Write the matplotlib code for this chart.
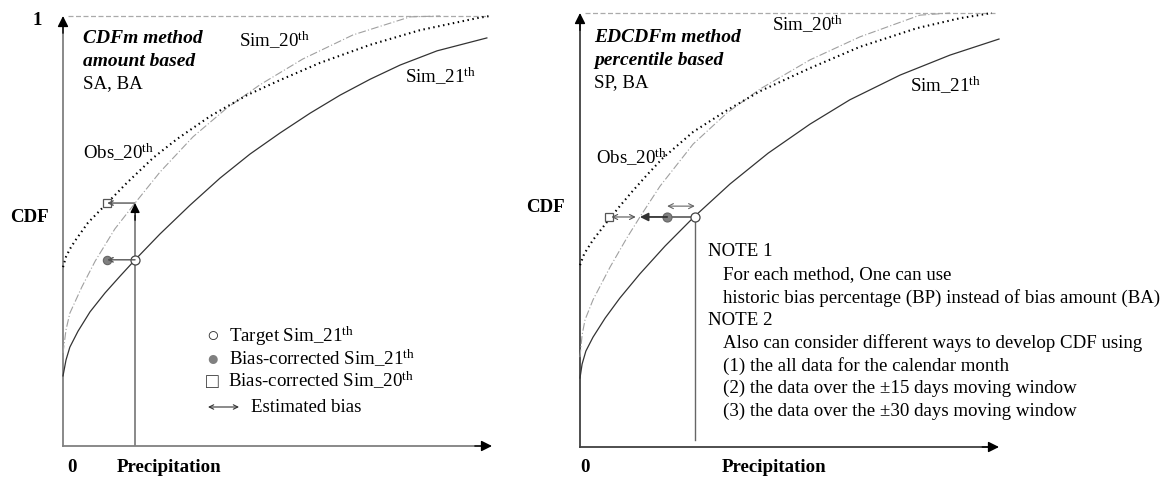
import numpy as np
import matplotlib.pyplot as plt

plt.rcParams['font.family'] = ['Liberation Serif', 'DejaVu Serif']
plt.rcParams['mathtext.fontset'] = 'custom'
plt.rcParams['mathtext.rm'] = 'Liberation Serif'
plt.rcParams['mathtext.it'] = 'Liberation Serif:italic'
plt.rcParams['mathtext.bf'] = 'Liberation Serif:bold'

W, H = 1168, 479

# ---- left panel : CDFm, amount based (x = precipitation, y = CDF) ----
cdfm_sim21_x = [0.0, 0.007, 0.016, 0.035, 0.063, 0.098, 0.133, 0.168, 0.226, 0.296, 0.366,
                0.436, 0.506, 0.576, 0.646, 0.716, 0.786, 0.872, 0.988]
cdfm_sim21_y = [0.163, 0.200, 0.230, 0.267, 0.312, 0.356, 0.395, 0.433, 0.493, 0.560, 0.623,
                0.679, 0.728, 0.774, 0.816, 0.853, 0.886, 0.919, 0.949]
cdfm_sim20_x = [0.0, 0.007, 0.016, 0.044, 0.075, 0.121, 0.168, 0.226, 0.303, 0.382, 0.459,
                0.559, 0.676, 0.809, 0.879]
cdfm_sim20_y = [0.216, 0.270, 0.309, 0.370, 0.430, 0.505, 0.565, 0.637, 0.719, 0.786, 0.840,
                0.900, 0.956, 0.998, 1.0]
cdfm_obs_x = [0.0, 0.007, 0.016, 0.028, 0.058, 0.103, 0.149, 0.210, 0.266, 0.343, 0.429,
              0.506, 0.599, 0.716, 0.832, 0.965, 0.995]
cdfm_obs_y = [0.416, 0.440, 0.458, 0.477, 0.519, 0.565, 0.612, 0.670, 0.714, 0.767, 0.816,
              0.851, 0.891, 0.933, 0.967, 0.995, 1.0]
cdfm_target = (0.168, 0.433)
cdfm_corr21 = (0.103, 0.433)
cdfm_corr20 = (0.103, 0.565)
cdfm_sim20_pt = (0.168, 0.565)

# ---- right panel : EDCDFm, percentile based ----
ed_sim21_x = [0.0, 0.005, 0.014, 0.031, 0.060, 0.095, 0.143, 0.203, 0.272, 0.358, 0.449,
              0.549, 0.644, 0.764, 0.883, 1.0]
ed_sim21_y = [0.159, 0.191, 0.221, 0.253, 0.297, 0.343, 0.399, 0.463, 0.530, 0.606, 0.677,
              0.744, 0.800, 0.857, 0.903, 0.940]
ed_sim20_x = [0.0, 0.005, 0.012, 0.031, 0.072, 0.112, 0.143, 0.191, 0.270, 0.351, 0.430,
              0.549, 0.668, 0.811, 0.883]
ed_sim20_y = [0.207, 0.258, 0.293, 0.339, 0.415, 0.482, 0.530, 0.601, 0.698, 0.770, 0.825,
              0.892, 0.945, 0.995, 1.0]
ed_obs_x = [0.0, 0.010, 0.031, 0.064, 0.095, 0.124, 0.160, 0.198, 0.270, 0.351, 0.430,
            0.549, 0.668, 0.804, 0.907, 0.983]
ed_obs_y = [0.419, 0.445, 0.477, 0.518, 0.555, 0.588, 0.627, 0.666, 0.726, 0.776, 0.820,
            0.873, 0.922, 0.965, 0.988, 1.0]
ed_corr20 = (0.069, 0.530)
ed_sim20_pt = (0.143, 0.530)
ed_corr21 = (0.208, 0.530)
ed_target = (0.274, 0.530)

notes = ["NOTE 1",
         "For each method, One can use",
         "historic bias percentage (BP) instead of bias amount (BA)",
         "NOTE 2",
         "Also can consider different ways to develop CDF using",
         "(1) the all data for the calendar month",
         "(2) the data over the \u00b115 days moving window",
         "(3) the data over the \u00b130 days moving window"]
note_indent = [0, 1, 1, 0, 1, 1, 1, 1]

fig = plt.figure(figsize=(W / 100, H / 100), dpi=100)
tx = fig.add_axes([0, 0, 1, 1])
tx.set_xlim(0, W)
tx.set_ylim(H, 0)
tx.axis('off')

FS = 13.6


def panel(x0, y0, w, h):
    ax = fig.add_axes([x0 / W, 1 - y0 / H, w / W, h / H])
    ax.set_xlim(0, 1)
    ax.set_ylim(0, 1)
    ax.axis('off')
    return ax


def arrow(ax, start, end, style, color, lw, ms):
    ax.annotate('', xy=end, xytext=start,
                arrowprops=dict(arrowstyle=style, color=color, lw=lw,
                                mutation_scale=ms, shrinkA=0, shrinkB=0),
                annotation_clip=False)


def draw_axes(ax, ycol):
    ax.plot([0, 0], [0, 0.975], color=ycol, lw=1.3, clip_on=False)
    arrow(ax, (0, 0.96), (0, 1.0), '-|>', 'k', 1.0, 16)
    ax.plot([0, 0.975], [0, 0], color=ycol, lw=1.3, clip_on=False)
    arrow(ax, (0.96, 0), (1.0, 0), '-|>', 'k', 1.0, 16)
    ax.plot([0.012, 0.99], [1.0, 1.0], color='#aaaaaa', lw=0.9,
            ls=(0, (4, 2)), clip_on=False)


def draw_curves(ax, s21x, s21y, s20x, s20y, ox, oy):
    ax.plot(s21x, s21y, color='#333333', lw=0.9, clip_on=False)
    ax.plot(s20x, s20y, color='#a0a0a0', lw=0.8, ls=(0, (7, 2, 1, 2)), clip_on=False)
    ax.plot(ox, oy, color='k', lw=1.5, ls=(0, (0.7, 1.7)), clip_on=False)


# left panel
a1 = panel(63, 446, 429, 430)
draw_axes(a1, '#808080')
draw_curves(a1, cdfm_sim21_x, cdfm_sim21_y, cdfm_sim20_x, cdfm_sim20_y, cdfm_obs_x, cdfm_obs_y)
a1.plot([cdfm_target[0], cdfm_sim20_pt[0]], [0, cdfm_sim20_pt[1] - 0.03], color='#808080', lw=1.3)
arrow(a1, (cdfm_sim20_pt[0], cdfm_sim20_pt[1] - 0.04), cdfm_sim20_pt, '-|>', 'k', 1.0, 14)
arrow(a1, cdfm_target, cdfm_corr21, '->', '#555555', 1.0, 8)
arrow(a1, cdfm_sim20_pt, cdfm_corr20, '->', '#555555', 1.0, 8)
a1.plot(*cdfm_target, 'o', ms=6.5, mfc='white', mec='#444444', mew=0.9, clip_on=False)
a1.plot(*cdfm_corr21, 'o', ms=6, mfc='#808080', mec='#666666', mew=0.8, clip_on=False)
a1.plot(*cdfm_corr20, 's', ms=6, mfc='white', mec='#555555', mew=0.9, clip_on=False)

# right panel
a2 = panel(580, 447, 419, 434)
draw_axes(a2, '#404040')
draw_curves(a2, ed_sim21_x, ed_sim21_y, ed_sim20_x, ed_sim20_y, ed_obs_x, ed_obs_y)
a2.plot([ed_target[0], ed_target[0]], [0.016, ed_target[1]], color='#666666', lw=1.0)
a2.plot([ed_target[0], ed_corr21[0]], [ed_target[1], ed_corr21[1]], color='#666666', lw=1.3)
arrow(a2, ed_corr21, ed_sim20_pt, '-|>', '#333333', 1.3, 12)
arrow(a2, (ed_corr20[0] + 0.006, ed_corr20[1]), (ed_sim20_pt[0] - 0.01, ed_sim20_pt[1]),
      '<->', '#555555', 0.8, 9)
arrow(a2, (ed_corr21[0], ed_corr21[1] + 0.025), (ed_target[0], ed_target[1] + 0.025),
      '<->', '#666666', 0.8, 9)
a2.plot(*ed_target, 'o', ms=6.5, mfc='white', mec='#444444', mew=0.9, clip_on=False)
a2.plot(*ed_corr21, 'o', ms=6.5, mfc='#808080', mec='#666666', mew=0.8, clip_on=False)
a2.plot(*ed_corr20, 's', ms=6, mfc='white', mec='#555555', mew=0.9, clip_on=False)


# ---- texts ----
def t(x, y, s, **kw):
    kw.setdefault('fontsize', FS)
    tx.text(x, y, s, va='center', ha='left', **kw)


th = r'$^{\mathrm{th}}$'
# left
t(33, 20, '1', fontweight='bold')
t(83, 38, 'CDFm method', fontweight='bold', style='italic', fontsize=14)
t(83, 61, 'amount based', fontweight='bold', style='italic', fontsize=14)
t(83, 84, 'SA, BA')
t(239, 41, 'Sim_20' + th)
t(405, 77, 'Sim_21' + th)
t(83, 153, 'Obs_20' + th)
t(10, 218, 'CDF', fontweight='bold')
t(67, 467, '0', fontweight='bold')
t(117, 467, 'Precipitation', fontweight='bold')
t(206, 338, '\u25cb', color='#333333', fontsize=15)
t(229, 336, 'Target Sim_21' + th)
t(206, 361, '\u25cf', color='#808080', fontsize=15)
t(229, 359, 'Bias-corrected Sim_21' + th)
t(206, 383, '\u25a1', color='#333333', fontsize=15)
t(228, 381, 'Bias-corrected Sim_20' + th)
tx.annotate('', xy=(239, 407), xytext=(208, 407),
            arrowprops=dict(arrowstyle='<->', color='#333333', lw=0.8,
                            mutation_scale=8, shrinkA=0, shrinkB=0))
t(251, 407, 'Estimated bias')
# right
t(594, 37, 'EDCDFm method', fontweight='bold', style='italic', fontsize=14)
t(594, 60, 'percentile based', fontweight='bold', style='italic', fontsize=14)
t(594, 83, 'SP, BA')
t(772, 25, 'Sim_20' + th)
t(910, 86, 'Sim_21' + th)
t(596, 158, 'Obs_20' + th)
t(526, 208, 'CDF', fontweight='bold')
t(580, 467, '0', fontweight='bold')
t(722, 467, 'Precipitation', fontweight='bold')
for i, (line, ind) in enumerate(zip(notes, note_indent)):
    t(708 + 15 * ind, 252 + 22.8 * i, line)

fig.savefig('out.png', dpi=100)
